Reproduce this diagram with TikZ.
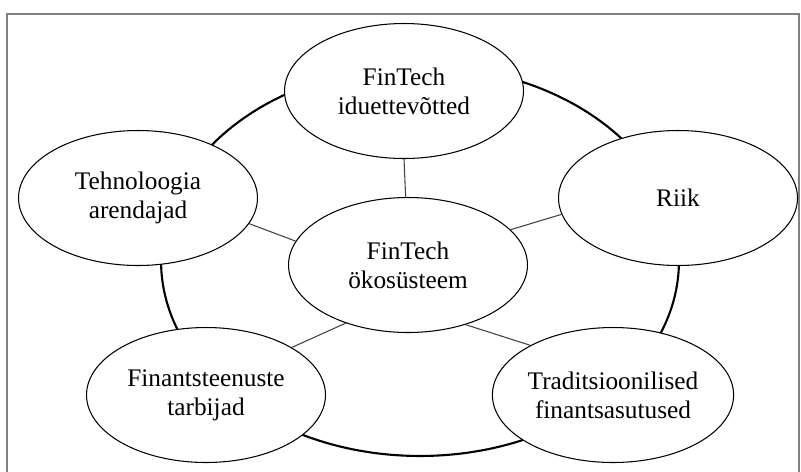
\documentclass[tikz,border=0pt]{standalone}
\usepackage{fontspec}
\setmainfont{Liberation Serif}
\usepackage{tkz-euclide}
\usetikzlibrary{shapes.geometric}

\begin{document}
\begin{tikzpicture}[x=0.02cm,y=-0.02cm,
    ell/.style={ellipse,draw,fill=white,line width=0.6pt,align=center,
      minimum width=4.78cm,minimum height=2.7cm,inner sep=0pt,
      font=\fontsize{14.4}{16.6}\selectfont},
    spoke/.style={black!75,line width=0.6pt}]
    \useasboundingbox (0,0) rectangle (801,471);
    \clip (0,0) rectangle (801,471);
    \draw[gray,line width=1.2pt] (7,14) rectangle (799,480);
    \tkzDefPoint(408,265){O}
    \tkzDefPoint(404,91){A}
    \tkzDefPoint(678,198){B}
    \tkzDefPoint(613,395){C}
    \tkzDefPoint(206,395){D}
    \tkzDefPoint(138,198){E}
    \draw[line width=1.2pt] (420,261) ellipse [x radius=5.18cm,y radius=3.9cm];
    \node[ell] (Ok) at (O) {FinTech\\ökosüsteem};
    \node[ell] (Id) at (A) {FinTech\\iduettevõtted};
    \node[ell] (Ri) at (B) {Riik};
    \node[ell] (Tr) at (C) {Traditsioonilised\\finantsasutused};
    \node[ell] (Fi) at (D) {Finantsteenuste\\tarbijad};
    \node[ell] (Te) at (E) {Tehnoloogia\\arendajad};
    %\draw[spoke] (Ok) -- (Id);
    \draw[spoke] (Ok.92) -- (Id.270);
    \draw[spoke] (Ok.19) -- (Ri.188);
    \draw[spoke] (Ok.314) -- (Tr.149);
    \draw[spoke] (Ok.223) -- (Fi.29);
    \draw[spoke] (Ok.168) -- (Te.347);
\end{tikzpicture}
\end{document}
